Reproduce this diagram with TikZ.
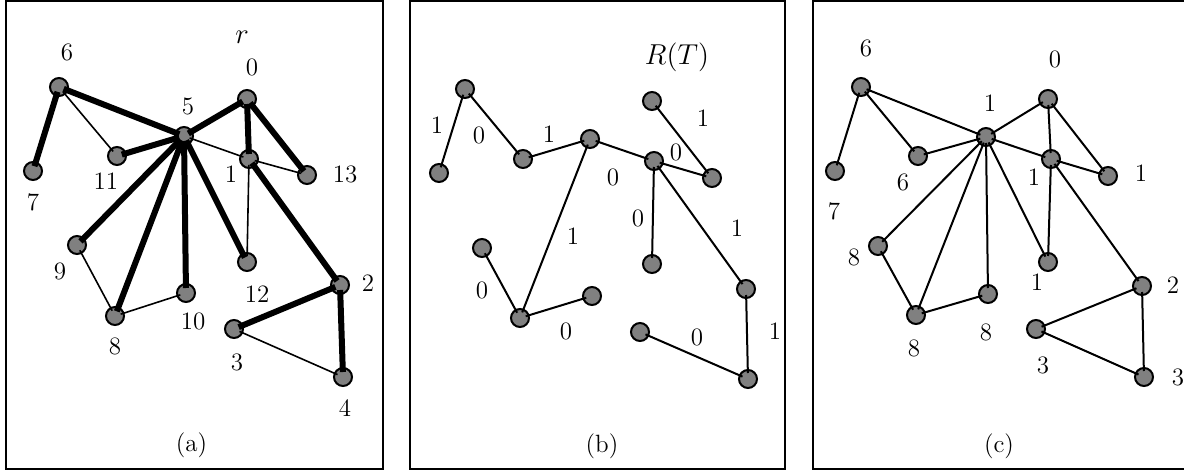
\documentclass[tikz,border=0pt]{standalone}
\definecolor{vgray}{gray}{0.5}
\begin{document}
\begin{tikzpicture}[x=0.5pt,y=-0.5pt,
  vtx/.style={circle,draw=black,fill=vgray,line width=1pt,minimum size=9pt,inner sep=0pt},
  thickedge/.style={line width=3pt,shorten <=-2.5pt,shorten >=-2.5pt},
  thinedge/.style={line width=0.8pt,shorten <=-2pt,shorten >=-2pt},
  plainedge/.style={line width=1pt,shorten <=-2pt,shorten >=-2pt},
  lbl/.style={inner sep=0pt,font=\fontsize{12.5}{14}\selectfont},
  mlbl/.style={inner sep=0pt,font=\fontsize{14.4}{16}\selectfont},
  panel/.style={draw=black,line width=1pt}]
\useasboundingbox (0,0) rectangle (1184,471);
% frames
\draw[panel] (6,1) rectangle (383,469);
\draw[panel] (410,1) rectangle (785,469);
\draw[panel] (813,1) rectangle (1190,469);

% ---------- panel (a)
\foreach \n/\x/\y in {6/59/87,7/33/171,11/117/156,5/184/136,0/247/99,1/249/159,13/307/175,
  9/77/245,8/115/316,10/186/293,12/247/262,2/340/285,3/234/329,4/343/377}
  \node[vtx] (a\n) at (\x,\y) {};
\foreach \u/\v in {6/7,6/5,11/5,5/0,0/1,0/13,5/9,5/8,5/10,5/12,1/2,2/3,2/4}
  \draw[thickedge] (a\u) -- (a\v);
\foreach \u/\v in {6/11,5/1,1/13,1/12,9/8,8/10,3/4}
  \draw[thinedge] (a\u) -- (a\v);
\node[lbl] (la6) at (67,52) {6};
\node[lbl] (la7) at (33,202) {7};
\node[lbl] (la11) at (106,181) {11};
\node[lbl] (la5) at (188,106) {5};
\node[mlbl] (lar) at (242,37) {$r$};
\node[lbl] (la0) at (252,67) {0};
\node[lbl] (la1) at (231,174) {1};
\node[lbl] (la13) at (345,174) {13};
\node[lbl] (la9) at (60,271) {9};
\node[lbl] (la8) at (115,346) {8};
\node[lbl] (la10) at (193,321) {10};
\node[lbl] (la12) at (257,294) {12};
\node[lbl] (la2) at (368,283) {2};
\node[lbl] (la3) at (237,362) {3};
\node[lbl] (la4) at (345,408) {4};
\node[lbl] (capa) at (191.5,445) {(a)};

% ---------- panel (b)
\foreach \n/\x/\y in {6/465/89,7/439/173,11/523/159,5/590/139,0/652/101,1/654/161,13/712/178,
  9/482/248,8/520/318,10/592/296,12/652/264,2/746/289,3/640/332,4/748/379}
  \node[vtx] (b\n) at (\x,\y) {};
\foreach \u/\v in {6/7,6/11,11/5,5/1,0/13,1/13,1/12,1/2,2/4,3/4,5/8,9/8,8/10}
  \draw[plainedge] (b\u) -- (b\v);
\node[lbl] (lb1) at (437,125) {1};
\node[lbl] (lb2) at (479,135) {0};
\node[lbl] (lb3) at (549,134) {1};
\node[lbl] (lb4) at (573,236) {1};
\node[mlbl] (lbR) at (677,57) {$R(T)$};
\node[lbl] (lb5) at (703,118) {1};
\node[lbl] (lb6) at (676,152) {0};
\node[lbl] (lb7) at (613,177) {0};
\node[lbl] (lb8) at (638,218) {0};
\node[lbl] (lb9) at (737,228) {1};
\node[lbl] (lb10) at (482,290) {0};
\node[lbl] (lb11) at (566,331) {0};
\node[lbl] (lb12) at (775,331) {1};
\node[lbl] (lb13) at (697,337) {0};
\node[lbl] (capb) at (602,446) {(b)};

% ---------- panel (c)
\foreach \n/\x/\y in {6/861/87,7/835/171,11/918/156,5/986/137,0/1048/99,1/1051/159,13/1108/176,
  9/878/246,8/916/315,10/988/294,12/1048/262,2/1142/286,3/1036/329,4/1144/377}
  \node[vtx] (c\n) at (\x,\y) {};
\foreach \u/\v in {6/7,6/5,6/11,11/5,5/0,5/1,1/13,0/1,0/13,5/9,5/8,5/10,5/12,1/12,1/2,9/8,8/10,2/3,2/4,3/4}
  \draw[plainedge] (c\u) -- (c\v);
\node[lbl] (lc6) at (866,48) {6};
\node[lbl] (lc7) at (834,211) {7};
\node[lbl] (lc11) at (903,182) {6};
\node[lbl] (lc5) at (990,103) {1};
\node[lbl] (lc0) at (1055,59) {0};
\node[lbl] (lc1) at (1034,177) {1};
\node[lbl] (lc13) at (1141,173) {1};
\node[lbl] (lc9) at (854,257) {8};
\node[lbl] (lc8) at (914,348) {8};
\node[lbl] (lc10) at (986,332) {8};
\node[lbl] (lc12) at (1037,282) {1};
\node[lbl] (lc2) at (1173,285) {2};
\node[lbl] (lc3) at (1043,365) {3};
\node[lbl] (lc4) at (1178,377) {3};
\node[lbl] (capc) at (999,446) {(c)};
\end{tikzpicture}
\end{document}
